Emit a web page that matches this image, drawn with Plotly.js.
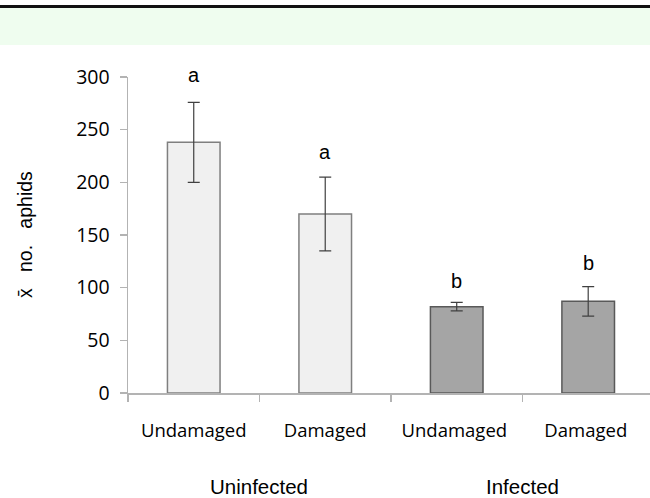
<!DOCTYPE html>
<html>
<head>
<meta charset="utf-8">
<script src="https://cdn.plot.ly/plotly-3.0.1.min.js"></script>
<style>html,body{margin:0;padding:0;background:#fff;}#chart{width:650px;height:498px;}</style>
</head>
<body>
<div id="chart"></div>
<script>
const categories = ["Undamaged", "Damaged", "Undamaged ", "Damaged "];
const groups = ["Uninfected", "Infected"];
const meanAphids = [238, 170, 82, 87];
const errAphids = [38, 35, 4, 14];
const letters = ["a", "a", "b", "b"];
const letterY = [302, 229, 106, 123];
const barColors = ["#f0f0f0", "#f0f0f0", "#a5a5a5", "#a5a5a5"];
const lineColors = ["#7f7f7f", "#7f7f7f", "#595959", "#595959"];
const yTicks = [0, 50, 100, 150, 200, 250, 300];
const yMax = 300;

const trace = {
  type: "bar",
  x: categories,
  y: meanAphids,
  width: 0.4,
  marker: {color: barColors, line: {color: lineColors, width: 1.5}},
  error_y: {type: "data", array: errAphids, visible: true, color: "#404040", thickness: 1.2, width: 6},
  hoverinfo: "none"
};

const arial = "Liberation Sans, Arial, sans-serif";
const annotations = letters.map((t, i) => ({
  x: categories[i], y: letterY[i] / yMax, xref: "x", yref: "paper", text: t, showarrow: false,
  yanchor: "middle",
  font: {family: arial, size: 20, color: "#000"}
}));
[0.5, 2.5].forEach((gx, i) => annotations.push({
  x: gx, y: 0, xref: "x", yref: "paper", text: groups[i], showarrow: false,
  yanchor: "middle", yshift: -(486 - 393),
  font: {family: arial, size: 20.5, color: "#000"}
}));
annotations.push({
  x: 0, y: 0.5, xref: "paper", yref: "paper", xanchor: "center", yanchor: "middle",
  xshift: -(128 - 25), textangle: -90, showarrow: false,
  text: "x̄\u00a0\u00a0\u00a0no.\u00a0\u00a0\u00a0aphids",
  font: {family: arial, size: 19.5, color: "#000"}
});

const layout = {
  width: 650, height: 498,
  margin: {l: 128, r: 0, t: 77, b: 105},
  paper_bgcolor: "#ffffff", plot_bgcolor: "#ffffff",
  showlegend: false,
  xaxis: {
    type: "category", range: [-0.5, 3.47],
    showline: true, linecolor: "#b3b3b3", linewidth: 1.5,
    ticks: "outside", ticklen: 7, tickcolor: "#b3b3b3", tickwidth: 1.5, tickson: "boundaries",
    ticklabelstandoff: 20,
    tickfont: {family: "Open Sans, sans-serif", size: 18.5, color: "#000"},
    showgrid: false, zeroline: false, fixedrange: true
  },
  yaxis: {
    range: [0, yMax], tickvals: yTicks, ticktext: yTicks.map(String),
    showline: true, linecolor: "#b3b3b3", linewidth: 1.5,
    ticks: "outside", ticklen: 7, tickcolor: "#b3b3b3", tickwidth: 1.5,
    ticklabelstandoff: 6,
    tickfont: {family: "Open Sans, sans-serif", size: 19.5, color: "#000"},
    showgrid: false, zeroline: false, fixedrange: true
  },
  shapes: [
    {type: "rect", xref: "paper", yref: "paper", x0: -1, x1: 2, y0: (498 - 45 - 105) / 316, y1: (498 - 7 - 105) / 316, fillcolor: "#effdef", line: {width: 0}, layer: "below"},
    {type: "line", xref: "paper", yref: "paper", x0: -1, x1: 2, y0: (498 - 6.5 - 105) / 316, y1: (498 - 6.5 - 105) / 316, line: {color: "#111", width: 3}}
  ],
  annotations: annotations
};

Plotly.newPlot("chart", [trace], layout, {staticPlot: true, displayModeBar: false});
</script>
</body>
</html>
